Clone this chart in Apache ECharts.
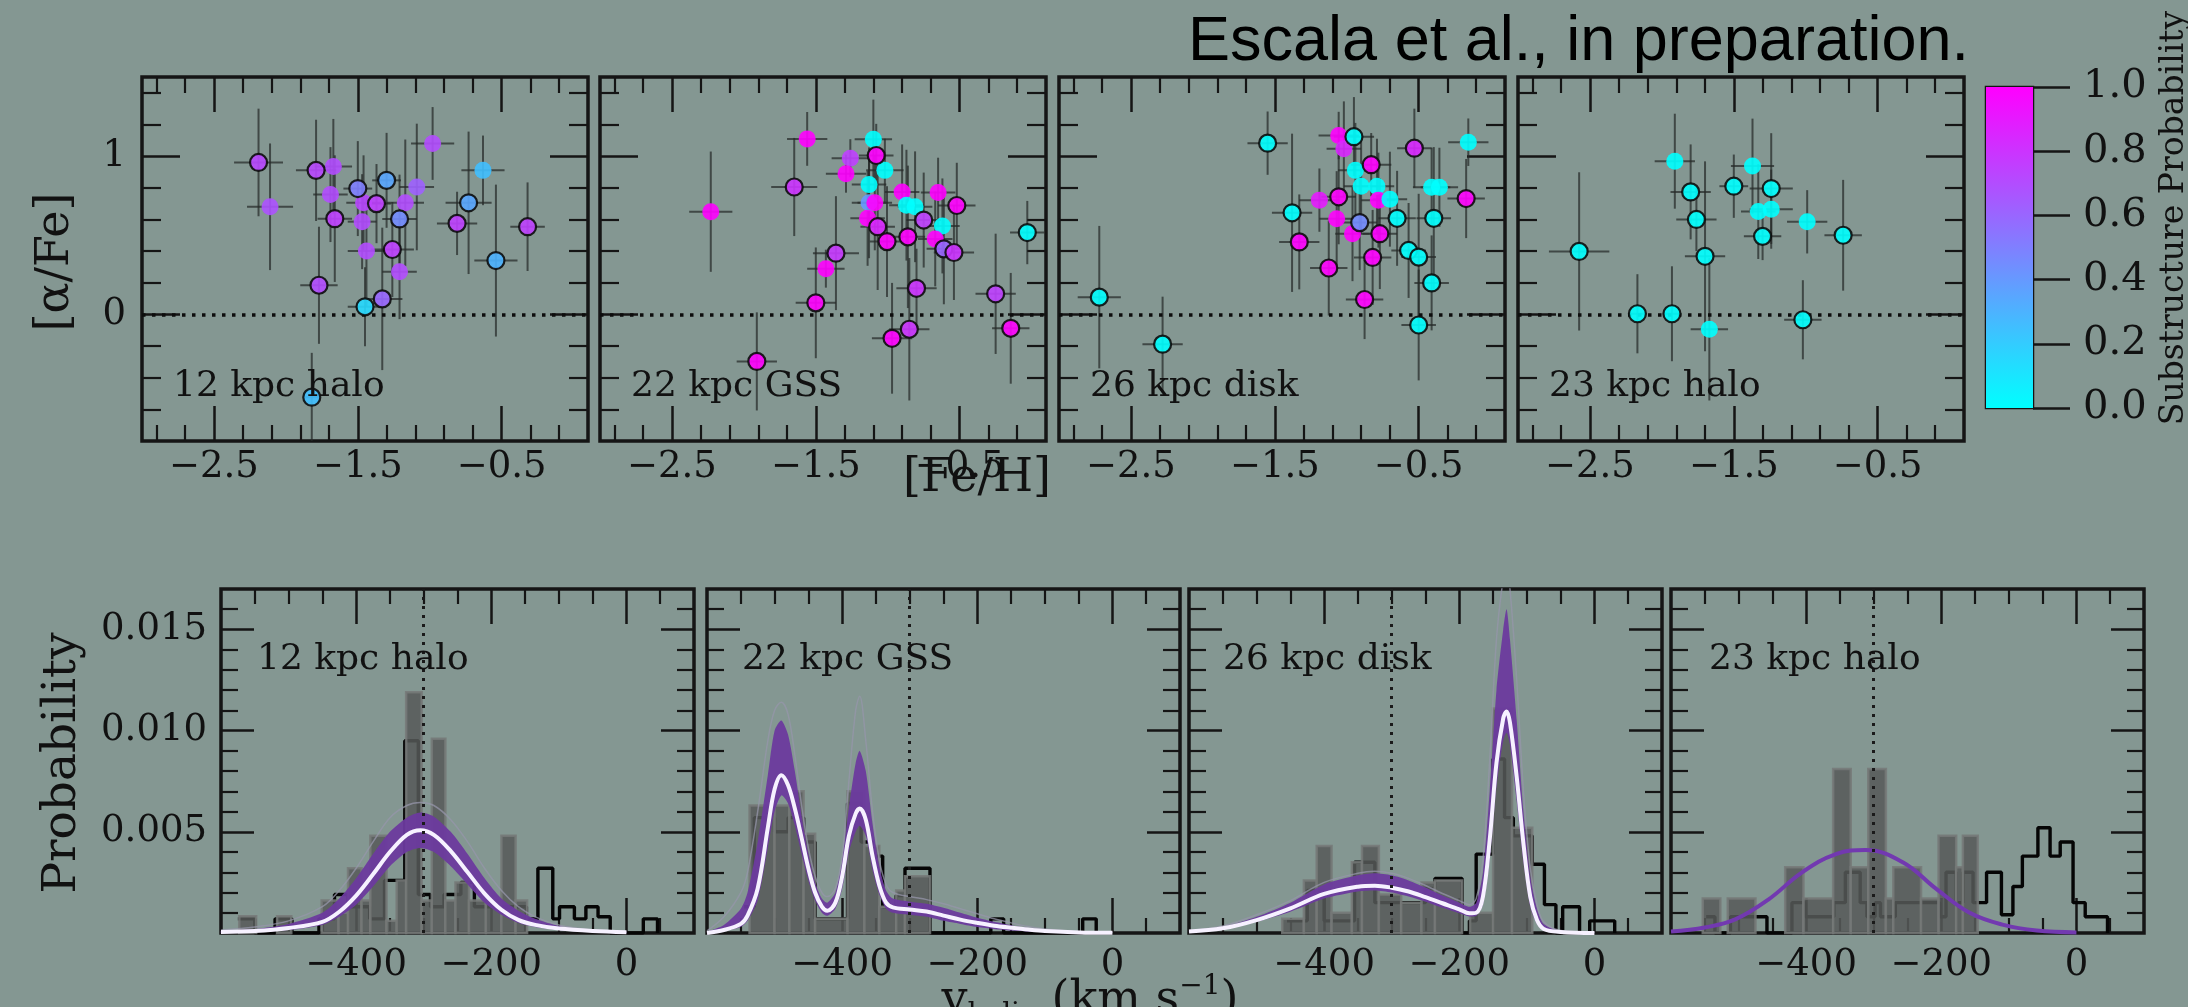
<!DOCTYPE html>
<html><head><meta charset="utf-8">
<script src="https://cdn.jsdelivr.net/npm/echarts@6/dist/echarts.min.js"></script>
<style>html,body{margin:0;padding:0;background:#849792;}#c{width:2188px;height:1007px;}</style>
</head><body><div id="c"></div>
<script>
// ---------------- DATA ----------------
const panelNames = ['12 kpc halo', '22 kpc GSS', '26 kpc disk', '23 kpc halo'];
const fehTicks = [-2.5, -1.5, -0.5];
const fehMinorTicks = [-2.9, -2.7, -2.3, -2.1, -1.9, -1.7, -1.3, -1.1, -0.9, -0.7, -0.3, -0.1];
const alphaTicks = [0, 1];
const alphaMinorTicks = [-0.6, -0.4, -0.2, 0.2, 0.4, 0.6, 0.8, 1.2, 1.4];
const vTicks = [-400, -200, 0];
const vMinorTicks = [-550, -500, -450, -350, -300, -250, -150, -100, -50, 50];
const probTicks = [0.005, 0.010, 0.015];
const probMinorTicks = [0.001, 0.002, 0.003, 0.004, 0.006, 0.007, 0.008, 0.009, 0.011, 0.012, 0.013, 0.014, 0.016];
const colorbarTicks = [0, 0.2, 0.4, 0.6, 0.8, 1.0];
const alphaRef = 0;
const vRef = -300;

// stars: [Fe/H], [alpha/Fe], substructure probability, xerr, yerr, edged(1/0)
const starsHalo12 = [
 [-2.19,0.96,0.72,0.17,0.34,1],[-2.11,0.68,0.68,0.16,0.40,0],[-1.79,0.91,0.72,0.14,0.32,1],
 [-1.67,0.935,0.70,0.13,0.30,0],[-1.69,0.757,0.70,0.12,0.30,0],[-1.66,0.605,0.75,0.12,0.40,1],
 [-1.77,0.184,0.70,0.13,0.37,1],[-1.50,0.795,0.50,0.10,0.30,1],[-1.46,0.705,0.72,0.12,0.30,0],
 [-1.37,0.70,0.75,0.10,0.25,1],[-1.47,0.586,0.70,0.10,0.30,0],[-1.44,0.40,0.70,0.13,0.35,0],
 [-1.45,0.048,0.15,0.12,0.25,1],[-1.30,0.847,0.35,0.10,0.30,1],[-1.21,0.603,0.45,0.12,0.28,1],
 [-1.26,0.41,0.75,0.15,0.30,1],[-1.33,0.098,0.60,0.14,0.45,1],[-1.21,0.27,0.70,0.12,0.30,0],
 [-1.17,0.705,0.70,0.13,0.40,0],[-1.09,0.805,0.62,0.12,0.40,0],[-0.98,1.08,0.70,0.15,0.23,0],
 [-0.81,0.575,0.75,0.14,0.20,1],[-0.73,0.705,0.35,0.16,0.45,1],[-0.63,0.91,0.25,0.15,0.22,0],
 [-0.54,0.34,0.30,0.15,0.48,1],[-0.32,0.554,0.75,0.12,0.28,1],[-1.82,-0.523,0.25,0.05,0.28,1]
];
const starsGSS = [
 [-2.23,0.649,1.0,0.15,0.38,0],[-1.56,1.109,1.0,0.14,0.17,0],[-1.65,0.805,0.8,0.16,0.31,1],
 [-1.91,-0.297,1.0,0.14,0.31,1],[-1.50,0.073,1.0,0.14,0.35,1],[-1.43,0.289,1.0,0.13,0.12,0],
 [-1.36,0.387,0.78,0.16,0.36,1],[-1.26,0.987,0.75,0.13,0.12,0],[-1.29,0.889,1.0,0.14,0.12,0],
 [-1.10,1.107,0.0,0.13,0.25,0],[-1.08,1.004,1.0,0.12,0.20,1],[-1.02,0.910,0.0,0.13,0.20,0],
 [-1.13,0.82,0.0,0.12,0.20,0],[-1.13,0.705,0.4,0.12,0.35,0],[-1.09,0.705,1.0,0.12,0.30,0],
 [-1.14,0.607,1.0,0.12,0.30,0],[-1.07,0.554,0.85,0.12,0.40,1],[-1.005,0.46,1.0,0.12,0.35,1],
 [-0.90,0.774,1.0,0.12,0.30,0],[-0.87,0.69,0.0,0.12,0.35,0],[-0.81,0.68,0.0,0.12,0.35,0],
 [-0.86,0.49,1.0,0.12,0.45,1],[-0.75,0.596,0.75,0.12,0.30,1],[-0.65,0.77,1.0,0.12,0.22,0],
 [-0.52,0.688,1.0,0.13,0.27,1],[-0.62,0.559,0.0,0.12,0.30,0],[-0.67,0.477,1.0,0.12,0.30,0],
 [-0.61,0.414,0.6,0.12,0.35,1],[-0.54,0.391,0.8,0.14,0.30,1],[-0.80,0.165,0.8,0.14,0.25,1],
 [-0.85,-0.094,0.8,0.14,0.45,1],[-0.97,-0.151,1.0,0.14,0.35,1],[-0.25,0.13,0.75,0.14,0.38,1],
 [-0.145,-0.088,1.0,0.13,0.35,1],[-0.03,0.517,0.0,0.12,0.20,1]
];
const starsDisk = [
 [-2.72,0.109,0.0,0.15,0.45,1],[-2.28,-0.188,0.0,0.14,0.30,1],[-1.55,1.082,0.0,0.14,0.20,1],
 [-1.38,0.642,0.0,0.14,0.50,1],[-1.33,0.458,1.0,0.14,0.30,1],[-1.19,0.722,0.9,0.14,0.20,0],
 [-1.056,1.13,1.0,0.14,0.15,0],[-1.02,1.046,0.85,0.12,0.30,0],[-0.95,1.123,0.0,0.14,0.25,1],
 [-0.83,0.946,1.0,0.14,0.20,1],[-1.056,0.743,1.0,0.12,0.30,1],[-1.07,0.605,1.0,0.12,0.30,0],
 [-0.94,0.91,0.0,0.12,0.30,0],[-0.90,0.81,0.0,0.12,0.30,0],[-0.79,0.81,0.0,0.12,0.30,0],
 [-0.78,0.722,1.0,0.12,0.30,0],[-0.70,0.728,0.0,0.12,0.30,0],[-0.91,0.58,0.45,0.12,0.30,1],
 [-0.96,0.51,1.0,0.12,0.30,0],[-0.77,0.51,1.0,0.12,0.35,1],[-1.125,0.293,1.0,0.13,0.30,1],
 [-0.82,0.36,1.0,0.13,0.30,1],[-0.876,0.094,1.0,0.13,0.25,1],[-0.65,0.607,0.0,0.13,0.30,1],
 [-0.53,1.05,0.85,0.12,0.25,1],[-0.41,0.803,0.0,0.13,0.25,0],[-0.356,0.803,0.0,0.13,0.25,0],
 [-0.395,0.607,0.0,0.12,0.45,1],[-0.57,0.404,0.0,0.12,0.30,1],[-0.50,0.362,0.0,0.12,0.40,1],
 [-0.41,0.199,0.0,0.12,0.30,1],[-0.50,-0.067,0.0,0.12,0.35,1],[-0.17,0.732,1.0,0.13,0.25,1],
 [-0.155,1.088,0.0,0.14,0.15,0]
];
const starsHalo23 = [
 [-2.575,0.398,0,0.21,0.50,1],[-2.17,0.004,0,0.06,0.25,1],[-1.93,0.004,0,0.06,0.30,1],
 [-1.91,0.968,0,0.14,0.30,0],[-1.80,0.774,0,0.14,0.30,1],[-1.76,0.60,0,0.14,0.20,1],
 [-1.70,0.367,0,0.14,0.60,1],[-1.67,-0.094,0,0.13,0.45,0],[-1.50,0.81,0,0.10,0.20,1],
 [-1.37,0.937,0,0.15,0.30,0],[-1.24,0.795,0,0.15,0.35,1],[-1.33,0.65,0,0.12,0.30,0],
 [-1.24,0.665,0,0.15,0.25,0],[-1.30,0.493,0,0.13,0.15,1],[-0.99,0.585,0,0.14,0.20,0],
 [-1.02,-0.034,0,0.13,0.25,1],[-0.74,0.50,0,0.13,0.35,1]
];

// velocity histograms, heights in units of 1e-3 (km/s)^-1
// gray bars: [left edge, right edge, height]
const grayHalo12 = [
 [-573,-548,0.83],[-517,-496,0.83],[-451,-426,1.6],[-426,-412,1.0],[-412,-392,3.2],[-392,-379,1.6],
 [-379,-355,4.8],[-355,-340,0.6],[-340,-326,2.6],[-326,-303,11.9],[-303,-288,1.6],[-288,-268,9.6],
 [-268,-253,1.6],[-253,-233,2.5],[-233,-208,1.6],[-208,-185,1.6],[-185,-164,4.8],[-164,-147,1.6]
];
const grayGSS = [
 [-537,-500,6.3],[-500,-478,6.3],[-478,-457,7.0],[-457,-440,4.9],[-440,-392,0.7],[-392,-367,7.0],
 [-367,-345,4.3],[-345,-320,1.3],[-320,-307,2.1],[-307,-270,2.8]
];
const grayDisk = [
 [-462,-430,0.7],[-430,-411,2.6],[-411,-389,4.3],[-389,-359,1.0],[-359,-344,3.5],[-344,-319,4.3],
 [-319,-286,1.9],[-286,-256,1.5],[-256,-236,2.5],[-236,-196,2.6],[-184,-150,1.0],[-150,-122,11.1],
 [-122,-92,5.2]
];
const grayHalo23 = [
 [-553,-527,1.7],[-516,-475,1.7],[-431,-404,3.25],[-404,-360,1.7],[-360,-334,8.1],[-334,-308,3.25],
 [-308,-282,8.1],[-282,-271,1.7],[-271,-230,3.25],[-230,-204,1.7],[-204,-178,4.8],[-178,-168,3.25],
 [-168,-146,4.8]
];
// black step histograms: [edge, height until next edge]
const blackHalo12 = [
 [-575,0.7],[-550,0],[-520,0.7],[-495,0],[-455,0.7],[-432,1.9],[-412,1.3],[-380,0.7],[-358,2.6],
 [-328,9.5],[-308,1.9],[-290,1.3],[-270,1.9],[-245,2.5],[-225,1.3],[-165,1.3],[-148,0.7],[-131,3.2],
 [-109,0.7],[-99,1.3],[-77,0.7],[-60,1.3],[-42,0.8],[-24,0],[25,0.7],[46,0]
];
const blackGSS = [
 [-545,1.3],[-530,5.7],[-500,5.0],[-480,5.7],[-457,4.5],[-440,0.7],[-392,6.4],[-372,4.5],[-355,3.8],
 [-340,1.3],[-320,1.85],[-307,3.2],[-270,0],[-180,0.7],[-161,0],[-44,0.7],[-24,0]
];
const blackDisk = [
 [-455,0.6],[-425,2.1],[-400,0.6],[-355,3.5],[-325,1.5],[-270,1.5],[-250,2.2],[-236,2.7],[-196,0],
 [-185,0.6],[-175,3.9],[-150,8.6],[-133,5.7],[-120,4.8],[-92,3.4],[-74,1.4],[-57,0],[-47,1.3],
 [-22,0],[-7,0.6],[30,0]
];
const blackHalo23 = [
 [-548,0.8],[-535,0],[-512,0.8],[-458,0],[-421,1.5],[-401,0.8],[-359,1.5],[-342,3.0],[-320,1.5],
 [-310,0.8],[-298,1.5],[-290,0.8],[-268,1.5],[-202,0.8],[-193,3.0],[-178,1.5],[-168,3.0],[-153,1.5],
 [-133,3.0],[-111,0.9],[-94,2.3],[-80,3.8],[-57,5.2],[-39,3.8],[-24,4.5],[-5,1.5],[13,0.8],[46,0]
];
// model posteriors: [v, median, band low, band high, outer sample]
const modelHalo12 = [
 [-600,0.05,0.00,0.10,0.15],[-550,0.10,0.05,0.20,0.30],[-500,0.25,0.15,0.45,0.60],
 [-450,0.55,0.40,1.00,1.30],[-425,1.05,0.80,1.70,2.10],[-400,1.85,1.40,2.70,3.20],
 [-375,2.90,2.30,3.90,4.50],[-350,4.00,3.30,5.00,5.70],[-325,4.85,4.00,5.70,6.30],
 [-305,5.08,4.20,5.95,6.45],[-285,4.85,4.00,5.75,6.30],[-260,4.05,3.30,5.00,5.60],
 [-235,3.00,2.40,3.90,4.50],[-210,1.95,1.50,2.70,3.20],[-185,1.15,0.90,1.70,2.10],
 [-160,0.65,0.50,1.10,1.30],[-135,0.40,0.30,0.70,0.80],[-100,0.22,0.15,0.35,0.40],
 [-50,0.10,0.05,0.12,0.15],[0,0.04,0.00,0.05,0.06]
];
const modelGSS = [
 [-600,0.00,0.00,0.05,0.10],[-575,0.15,0.10,0.40,0.80],[-550,0.45,0.30,1.20,2.00],
 [-540,0.86,0.60,2.00,3.00],[-525,2.20,1.60,4.50,6.00],[-510,5.20,4.20,7.80,9.50],
 [-500,7.10,6.00,10.00,11.00],[-490,7.80,6.80,10.50,11.40],[-480,7.30,6.40,9.80,10.80],
 [-470,6.15,5.30,8.00,8.80],[-460,4.70,3.90,5.80,6.30],[-450,3.20,2.60,3.90,4.20],
 [-440,2.00,1.60,2.50,2.80],[-430,1.30,1.00,1.70,2.00],[-422,1.10,0.85,1.50,1.80],
 [-410,1.50,1.20,2.00,2.20],[-400,2.80,2.20,3.60,3.80],[-390,4.80,4.00,6.20,7.50],
 [-380,5.90,5.00,8.40,11.00],[-374,6.15,5.30,9.00,11.70],[-365,5.60,4.80,8.00,9.50],
 [-355,3.80,3.10,5.40,6.00],[-345,2.35,1.90,3.30,3.60],[-335,1.50,1.20,2.10,2.40],
 [-325,1.27,1.00,1.70,2.00],[-300,1.16,0.90,1.55,1.80],[-275,1.06,0.80,1.45,1.65],
 [-250,0.86,0.60,1.25,1.45],[-225,0.66,0.45,1.00,1.20],[-200,0.50,0.30,0.75,0.95],
 [-175,0.36,0.20,0.55,0.70],[-150,0.26,0.12,0.38,0.50],[-125,0.17,0.07,0.25,0.32],
 [-100,0.10,0.04,0.15,0.20],[-50,0.03,0.01,0.05,0.07],[0,0.01,0.00,0.02,0.03]
];
const modelDisk = [
 [-600,0.07,0.05,0.10,0.12],[-550,0.23,0.18,0.30,0.35],[-500,0.64,0.55,0.80,0.90],
 [-450,1.22,1.05,1.50,1.60],[-400,1.93,1.70,2.40,2.50],[-350,2.29,2.05,2.85,2.95],
 [-325,2.34,2.10,2.95,3.05],[-300,2.24,2.00,2.85,2.95],[-275,2.05,1.80,2.60,2.70],
 [-250,1.77,1.55,2.25,2.35],[-225,1.47,1.25,1.85,1.95],[-200,1.17,0.98,1.50,1.60],
 [-185,0.97,0.82,1.30,1.40],[-175,1.00,0.85,1.50,1.70],[-165,1.80,1.40,3.00,3.60],
 [-155,4.60,3.60,7.00,8.50],[-145,8.40,7.20,12.00,14.50],[-135,10.60,9.50,15.00,17.50],
 [-130,10.95,9.90,16.00,18.00],[-125,10.40,9.30,14.50,17.00],[-115,7.70,6.50,10.50,12.50],
 [-105,4.40,3.50,6.00,7.00],[-95,1.80,1.30,2.80,3.20],[-85,0.64,0.45,1.20,1.40],
 [-75,0.20,0.12,0.45,0.55],[-50,0.05,0.03,0.10,0.12],[0,0.00,0.00,0.02,0.03]
];
const modelHalo23 = [
 [-600,0.07],[-550,0.27],[-505,0.67],[-456,1.65],[-406,3.0],[-356,3.9],[-312,4.1],
 [-257,3.5],[-207,2.17],[-158,1.0],[-108,0.4],[-59,0.12],[0,0.03]
];

// ---------------- LAYOUT / STYLE ----------------
const U = 0.001;
const SERIF = '"DejaVu Serif", serif';
const INK = '#151515';
const BG = '#849792';
const PURPLE = '#6c3a9e';
const topLefts = [142, 600, 1059, 1518];
const botLefts = [221, 707, 1189, 1671];
const TOP = {top: 77, width: 446, height: 364};
const BOT = {top: 589, width: 473, height: 344};

const topStars = [starsHalo12, starsGSS, starsDisk, starsHalo23];
const grayHists = [grayHalo12, grayGSS, grayDisk, grayHalo23];
const blackHists = [blackHalo12, blackGSS, blackDisk, blackHalo23];
const models = [modelHalo12, modelGSS, modelDisk, null];

const minus = (v, d) => (v < 0 ? '\u2212' : '') + Math.abs(v).toFixed(d);
const cool = p => `rgb(${Math.round(255 * p)},${Math.round(255 * (1 - p))},255)`;

const option = {
  backgroundColor: BG, animation: false,
  grid: [], xAxis: [], yAxis: [], series: [], graphic: []
};

function axis(gi, pos, min, max, ticks, len, lw, labels, fmt, margin) {
  return {
    type: 'value', gridIndex: gi, position: pos, min: min, max: max,
    axisLine: {show: false, onZero: false}, splitLine: {show: false}, minorTick: {show: false},
    axisTick: {show: true, inside: true, length: len, customValues: ticks, lineStyle: {color: INK, width: lw}},
    axisLabel: labels ? {show: true, customValues: labels, formatter: fmt, margin: margin,
      fontFamily: SERIF, fontSize: 37, color: '#111'} : {show: false}
  };
}

function addPanel(left, box, xr, yr, xt, yt, showY, fmtX, fmtY, xm, ym, xl) {
  const gi = option.grid.length;
  option.grid.push({left: left, top: box.top, width: box.width, height: box.height, show: true,
    borderColor: INK, borderWidth: 3.5, backgroundColor: 'transparent', containLabel: false, outerBoundsMode: 'none'});
  const xi = option.xAxis.length, yi = option.yAxis.length;
  option.xAxis.push(
    axis(gi, 'bottom', xr[0], xr[1], xt.major, xl[0], 2.5, xt.major, fmtX, xm),
    axis(gi, 'bottom', xr[0], xr[1], xt.minor, xl[1], 2.2, null),
    axis(gi, 'top', xr[0], xr[1], xt.major, xl[0], 2.5, null),
    axis(gi, 'top', xr[0], xr[1], xt.minor, xl[1], 2.2, null));
  option.yAxis.push(
    axis(gi, 'left', yr[0], yr[1], yt.major, xl[2], 2.5, showY ? yt.major : null, fmtY, ym),
    axis(gi, 'left', yr[0], yr[1], yt.minor, xl[3], 2.2, null),
    axis(gi, 'right', yr[0], yr[1], yt.major, xl[2], 2.5, null),
    axis(gi, 'right', yr[0], yr[1], yt.minor, xl[3], 2.2, null));
  return [xi, yi];
}

function clampTo(cs, p) {
  return [Math.max(cs.x, Math.min(cs.x + cs.width, p[0])), Math.max(cs.y, Math.min(cs.y + cs.height, p[1]))];
}

// ---------------- TOP PANELS ----------------
for (let k = 0; k < 4; k++) {
  const [xi, yi] = addPanel(topLefts[k], TOP, [-3.0, 0.1], [-0.8, 1.5],
    {major: fehTicks, minor: fehMinorTicks}, {major: alphaTicks, minor: alphaMinorTicks},
    k === 0, v => minus(v, 1), v => String(v), 8, 16, [35, 16, 38, 19]);
  const rows = topStars[k];
  option.series.push({
    type: 'custom', xAxisIndex: xi, yAxisIndex: yi, z: 2, silent: true,
    data: rows, encode: {x: 0, y: 1},
    renderItem: function (params, api) {
      const cs = params.coordSys;
      const x = api.value(0), y = api.value(1), xe = api.value(3), ye = api.value(4);
      const a = clampTo(cs, api.coord([x - xe, y])), b = clampTo(cs, api.coord([x + xe, y]));
      const c = clampTo(cs, api.coord([x, y - ye])), d = clampTo(cs, api.coord([x, y + ye]));
      const st = {stroke: 'rgba(38,42,40,0.72)', lineWidth: 2};
      return {type: 'group', children: [
        {type: 'line', shape: {x1: a[0], y1: a[1], x2: b[0], y2: b[1]}, style: st},
        {type: 'line', shape: {x1: c[0], y1: c[1], x2: d[0], y2: d[1]}, style: st}
      ]};
    }
  });
  [0, 1].forEach(edge => {
    option.series.push({
      type: 'scatter', xAxisIndex: xi, yAxisIndex: yi, z: 4 + edge, silent: true,
      symbolSize: 17,
      data: rows.filter(r => r[5] === edge).map(r => [r[0], r[1], r[2]]),
      itemStyle: {
        color: p => cool(p.value[2]), opacity: 0.9,
        borderColor: edge ? '#0d0d0d' : 'transparent', borderWidth: edge ? 2.2 : 0
      },
      markLine: edge ? undefined : {
        silent: true, symbol: 'none', label: {show: false}, animation: false,
        lineStyle: {color: '#0d0d0d', width: 3.5, type: [3.5, 6.5]},
        data: [{yAxis: alphaRef}]
      }
    });
  });
  option.graphic.push({type: 'text', x: topLefts[k] + 31, y: 387, z: 10,
    style: {text: panelNames[k], fontFamily: SERIF, fontSize: 36, fill: '#111', align: 'left', verticalAlign: 'middle'}});
}

// ---------------- BOTTOM PANELS ----------------
const labelOffsets = [36, 35, 34, 38];
for (let k = 0; k < 4; k++) {
  const [xi, yi] = addPanel(botLefts[k], BOT, [-600, 100], [0, 0.017],
    {major: vTicks, minor: vMinorTicks}, {major: probTicks, minor: probMinorTicks},
    k === 0, v => minus(v, 0), v => v.toFixed(3), 14, 14, [35, 15, 33, 17]);
  // black step histogram (drawn beneath the gray bars) + reference line
  option.series.push({
    type: 'line', step: 'end', xAxisIndex: xi, yAxisIndex: yi, z: 2, silent: true,
    showSymbol: false, clip: true, data: blackHists[k].map(r => [r[0], r[1] * U]),
    lineStyle: {color: '#050505', width: 3.4},
    markLine: {silent: true, symbol: 'none', label: {show: false}, animation: false, z: 7,
      lineStyle: {color: '#1a1a1a', width: 3, type: [3, 6]}, data: [{xAxis: vRef}]}
  });
  option.series.push({
    type: 'custom', xAxisIndex: xi, yAxisIndex: yi, z: 3, silent: true,
    data: grayHists[k].map(r => [r[0], r[1], r[2] * U]), encode: {x: [0, 1], y: 2},
    renderItem: function (params, api) {
      const p0 = api.coord([api.value(0), api.value(2)]);
      const p1 = api.coord([api.value(1), 0]);
      return {type: 'rect', shape: {x: p0[0], y: p0[1], width: p1[0] - p0[0], height: p1[1] - p0[1]},
        style: {fill: '#565a58', stroke: '#767978', lineWidth: 2.5, opacity: 0.86}};
    }
  });
  const m = models[k];
  if (m) {
    option.series.push({
      type: 'custom', xAxisIndex: xi, yAxisIndex: yi, z: 4, silent: true,
      data: m.map(r => [r[0], r[2] * U, r[3] * U]), encode: {x: 0, y: [1, 2]},
      renderItem: function (params, api) {
        if (params.dataIndex !== 0) return null;
        const cs = params.coordSys;
        const up = m.map(r => clampTo(cs, api.coord([r[0], r[3] * U])));
        const lo = m.map(r => clampTo(cs, api.coord([r[0], r[2] * U]))).reverse();
        return {type: 'polygon', shape: {points: up.concat(lo), smooth: 0.25},
          style: {fill: PURPLE, opacity: 0.95}};
      }
    });
    option.series.push({
      type: 'line', xAxisIndex: xi, yAxisIndex: yi, z: 4, silent: true, smooth: 0.35,
      showSymbol: false, clip: true, data: m.map(r => [r[0], r[4] * U]),
      lineStyle: {color: 'rgba(150,150,170,0.75)', width: 1.5}
    });
    option.series.push({
      type: 'line', xAxisIndex: xi, yAxisIndex: yi, z: 5, silent: true, smooth: 0.35,
      showSymbol: false, clip: true, data: m.map(r => [r[0], r[1] * U]),
      lineStyle: {color: '#f6f1ff', width: 4}
    });
  } else {
    option.series.push({
      type: 'line', xAxisIndex: xi, yAxisIndex: yi, z: 5, silent: true, smooth: 0.4,
      showSymbol: false, clip: true, data: modelHalo23.map(r => [r[0], r[1] * U]),
      lineStyle: {color: '#7239b0', width: 4}
    });
  }
  option.graphic.push({type: 'text', x: botLefts[k] + labelOffsets[k], y: 660, z: 10,
    style: {text: panelNames[k], fontFamily: SERIF, fontSize: 36, fill: '#111', align: 'left', verticalAlign: 'middle'}});
}

// ---------------- COLORBAR ----------------
{
  const gi = option.grid.length;
  option.grid.push({left: 1986, top: 87, width: 47, height: 321, show: true, borderColor: INK, borderWidth: 2.5,
    backgroundColor: 'transparent', containLabel: false, outerBoundsMode: 'none'});
  const xi = option.xAxis.length, yi = option.yAxis.length;
  option.xAxis.push({type: 'category', gridIndex: gi, data: ['p'], show: false, boundaryGap: true});
  option.yAxis.push({type: 'value', gridIndex: gi, position: 'right', min: 0, max: 1, interval: 0.2,
    axisLine: {show: false, onZero: false}, splitLine: {show: false},
    axisTick: {show: true, inside: false, length: 37, lineStyle: {color: INK, width: 2.5}},
    axisLabel: {show: true, margin: 50, fontFamily: SERIF, fontSize: 40, color: '#111', formatter: v => v.toFixed(1)}});
  option.series.push({type: 'bar', xAxisIndex: xi, yAxisIndex: yi, barWidth: '100%', silent: true,
    data: [colorbarTicks[colorbarTicks.length - 1]],
    itemStyle: {color: {type: 'linear', x: 0, y: 0, x2: 0, y2: 1,
      colorStops: [{offset: 0, color: cool(1)}, {offset: 1, color: cool(0)}]}}});
}

// ---------------- TITLES ----------------
option.graphic.push(
  {type: 'text', x: 56, y: 262, rotation: Math.PI / 2, z: 10,
   style: {text: '[\u03b1/Fe]', fontFamily: SERIF, fontSize: 46, fill: '#111', align: 'center', verticalAlign: 'middle'}},
  {type: 'text', x: 977, y: 479, z: 10,
   style: {text: '[Fe/H]', fontFamily: SERIF, fontSize: 46, fill: '#111', align: 'center', verticalAlign: 'middle'}},
  {type: 'text', x: 63, y: 763, rotation: Math.PI / 2, z: 10,
   style: {text: 'Probability', fontFamily: SERIF, fontSize: 47, fill: '#111', align: 'center', verticalAlign: 'middle'}},
  {type: 'text', x: 1090, y: 1001, z: 10,
   style: {text: '{a|v}{s|helio}{a| (km s}{p|\u22121}{a|)}', align: 'center', verticalAlign: 'middle',
     rich: {
       a: {fontFamily: SERIF, fontSize: 46, fill: '#111', lineHeight: 56},
       s: {fontFamily: SERIF, fontSize: 28, fill: '#111', lineHeight: 28, verticalAlign: 'bottom'},
       p: {fontFamily: SERIF, fontSize: 28, fill: '#111', lineHeight: 28, verticalAlign: 'top'}
     }}},
  {type: 'text', x: 1969, y: 43, z: 10,
   style: {text: 'Escala et al., in preparation.', fontFamily: '"Liberation Sans", Arial, sans-serif', fontSize: 63,
     fill: '#000', align: 'right', verticalAlign: 'middle'}},
  {type: 'text', x: 2174, y: 218, rotation: Math.PI / 2, z: 10,
   style: {text: 'Substructure Probability', fontFamily: SERIF, fontSize: 33, fill: '#111', align: 'center', verticalAlign: 'middle'}}
);

const chart = echarts.init(document.getElementById('c'), null, {renderer: 'canvas'});
chart.setOption(option);
</script></body></html>
